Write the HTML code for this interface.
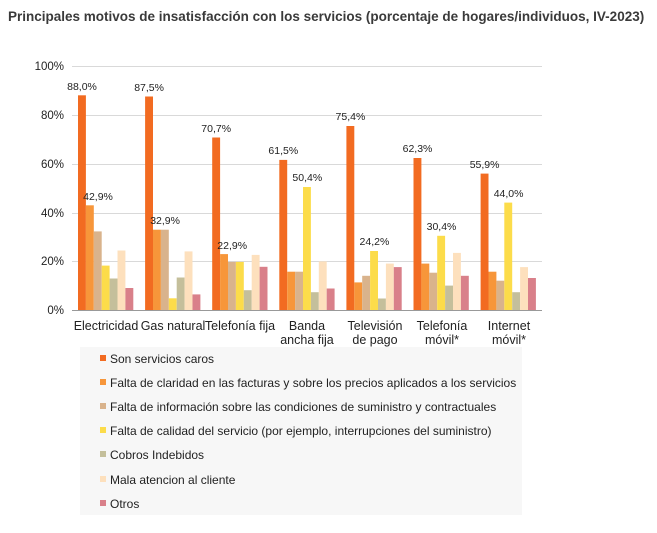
<!DOCTYPE html>
<html><head><meta charset="utf-8"><style>
body{margin:0;background:#fff;width:657px;height:528px;overflow:hidden;font-family:"Liberation Sans",sans-serif}
</style></head><body>
<svg width="657" height="528" xmlns="http://www.w3.org/2000/svg" font-family="Liberation Sans, sans-serif">
<defs>
<symbol id="a"></symbol>
</defs>
<text x="8" y="21" font-size="13.5" font-weight="bold" fill="#3a3a3a">Principales motivos de insatisfacción con los servicios (porcentaje de hogares/individuos, IV-2023)</text>
<g stroke="#d9d9d9" stroke-width="1">
<line x1="72" y1="66.5" x2="542" y2="66.5"/>
<line x1="72" y1="115.5" x2="542" y2="115.5"/>
<line x1="72" y1="164.5" x2="542" y2="164.5"/>
<line x1="72" y1="213.5" x2="542" y2="213.5"/>
<line x1="72" y1="261.5" x2="542" y2="261.5"/>
</g>
<g font-size="11.5" fill="#222" text-anchor="end">
<text x="64" y="70">100%</text><text x="64" y="119">80%</text><text x="64" y="168">60%</text><text x="64" y="217">40%</text><text x="64" y="265">20%</text><text x="64" y="314">0%</text>
</g>
<g transform="translate(78,0)">
<rect x="0" y="95.3" width="7.9" height="214.7" fill="#f26b21"/><rect x="7.9" y="205.3" width="7.9" height="104.7" fill="#f7963a"/><rect x="15.8" y="231.4" width="7.9" height="78.6" fill="#d9b38c"/><rect x="23.7" y="265.6" width="7.9" height="44.4" fill="#fcdc4a"/><rect x="31.6" y="278.5" width="7.9" height="31.5" fill="#c4bf9b"/><rect x="39.5" y="250.5" width="7.9" height="59.5" fill="#fde0bd"/><rect x="47.4" y="288" width="7.9" height="22" fill="#d9808a"/>
<text x="4" y="90" font-size="10.5" fill="#222" text-anchor="middle">88,0%</text><text x="20" y="200" font-size="10.5" fill="#222" text-anchor="middle">42,9%</text>
</g>
<g transform="translate(145.1,0)">
<rect x="0" y="96.5" width="7.9" height="213.5" fill="#f26b21"/><rect x="7.9" y="229.7" width="7.9" height="80.3" fill="#f7963a"/><rect x="15.8" y="229.7" width="7.9" height="80.3" fill="#d9b38c"/><rect x="23.7" y="298.3" width="7.9" height="11.7" fill="#fcdc4a"/><rect x="31.6" y="277.5" width="7.9" height="32.5" fill="#c4bf9b"/><rect x="39.5" y="251.4" width="7.9" height="58.6" fill="#fde0bd"/><rect x="47.4" y="294.4" width="7.9" height="15.6" fill="#d9808a"/>
<text x="4" y="91" font-size="10.5" fill="#222" text-anchor="middle">87,5%</text><text x="20" y="224" font-size="10.5" fill="#222" text-anchor="middle">32,9%</text>
</g>
<g transform="translate(212.2,0)">
<rect x="0" y="137.5" width="7.9" height="172.5" fill="#f26b21"/><rect x="7.9" y="254.1" width="7.9" height="55.9" fill="#f7963a"/><rect x="15.8" y="261.9" width="7.9" height="48.1" fill="#d9b38c"/><rect x="23.7" y="261.9" width="7.9" height="48.1" fill="#fcdc4a"/><rect x="31.6" y="290.2" width="7.9" height="19.8" fill="#c4bf9b"/><rect x="39.5" y="254.9" width="7.9" height="55.1" fill="#fde0bd"/><rect x="47.4" y="266.8" width="7.9" height="43.2" fill="#d9808a"/>
<text x="4" y="132" font-size="10.5" fill="#222" text-anchor="middle">70,7%</text><text x="20" y="249" font-size="10.5" fill="#222" text-anchor="middle">22,9%</text>
</g>
<g transform="translate(279.3,0)">
<rect x="0" y="159.9" width="7.9" height="150.1" fill="#f26b21"/><rect x="7.9" y="271.7" width="7.9" height="38.3" fill="#f7963a"/><rect x="15.8" y="271.7" width="7.9" height="38.3" fill="#d9b38c"/><rect x="23.7" y="187" width="7.9" height="123" fill="#fcdc4a"/><rect x="31.6" y="292.2" width="7.9" height="17.8" fill="#c4bf9b"/><rect x="39.5" y="261.4" width="7.9" height="48.6" fill="#fde0bd"/><rect x="47.4" y="288.5" width="7.9" height="21.5" fill="#d9808a"/>
<text x="4" y="154" font-size="10.5" fill="#222" text-anchor="middle">61,5%</text><text x="28" y="181" font-size="10.5" fill="#222" text-anchor="middle">50,4%</text>
</g>
<g transform="translate(346.4,0)">
<rect x="0" y="126" width="7.9" height="184" fill="#f26b21"/><rect x="7.9" y="282.4" width="7.9" height="27.6" fill="#f7963a"/><rect x="15.8" y="275.8" width="7.9" height="34.2" fill="#d9b38c"/><rect x="23.7" y="251" width="7.9" height="59" fill="#fcdc4a"/><rect x="31.6" y="298.5" width="7.9" height="11.5" fill="#c4bf9b"/><rect x="39.5" y="263.6" width="7.9" height="46.4" fill="#fde0bd"/><rect x="47.4" y="267.1" width="7.9" height="42.9" fill="#d9808a"/>
<text x="4" y="120" font-size="10.5" fill="#222" text-anchor="middle">75,4%</text><text x="28" y="245" font-size="10.5" fill="#222" text-anchor="middle">24,2%</text>
</g>
<g transform="translate(413.5,0)">
<rect x="0" y="158" width="7.9" height="152" fill="#f26b21"/><rect x="7.9" y="263.6" width="7.9" height="46.4" fill="#f7963a"/><rect x="15.8" y="272.7" width="7.9" height="37.3" fill="#d9b38c"/><rect x="23.7" y="235.8" width="7.9" height="74.2" fill="#fcdc4a"/><rect x="31.6" y="285.6" width="7.9" height="24.4" fill="#c4bf9b"/><rect x="39.5" y="252.9" width="7.9" height="57.1" fill="#fde0bd"/><rect x="47.4" y="275.8" width="7.9" height="34.2" fill="#d9808a"/>
<text x="4" y="152" font-size="10.5" fill="#222" text-anchor="middle">62,3%</text><text x="28" y="230" font-size="10.5" fill="#222" text-anchor="middle">30,4%</text>
</g>
<g transform="translate(480.6,0)">
<rect x="0" y="173.6" width="7.9" height="136.4" fill="#f26b21"/><rect x="7.9" y="271.7" width="7.9" height="38.3" fill="#f7963a"/><rect x="15.8" y="280.7" width="7.9" height="29.3" fill="#d9b38c"/><rect x="23.7" y="202.6" width="7.9" height="107.4" fill="#fcdc4a"/><rect x="31.6" y="292.2" width="7.9" height="17.8" fill="#c4bf9b"/><rect x="39.5" y="267.1" width="7.9" height="42.9" fill="#fde0bd"/><rect x="47.4" y="278" width="7.9" height="32" fill="#d9808a"/>
<text x="4" y="168" font-size="10.5" fill="#222" text-anchor="middle">55,9%</text><text x="28" y="197" font-size="10.5" fill="#222" text-anchor="middle">44,0%</text>
</g>
<line x1="72" y1="310.5" x2="542" y2="310.5" stroke="#999"/>
<g font-size="12.5" fill="#222" text-anchor="middle">
<text x="106" y="330">Electricidad</text>
<text x="173" y="330">Gas natural</text>
<text x="240" y="330">Telefonía fija</text>
<text x="307" y="330">Banda</text><text x="307" y="344">ancha fija</text>
<text x="375" y="330">Televisión</text><text x="375" y="344">de pago</text>
<text x="442" y="330">Telefonía</text><text x="442" y="344">móvil*</text>
<text x="509" y="330">Internet</text><text x="509" y="344">móvil*</text>
</g>
<rect x="80" y="347" width="442" height="168" fill="#f7f7f7"/>
<g font-size="12" fill="#222">
<rect x="100" y="355" width="6" height="6" fill="#f26b21"/><text x="110" y="363">Son servicios caros</text>
<rect x="100" y="379" width="6" height="6" fill="#f7963a"/><text x="110" y="387">Falta de claridad en las facturas y sobre los precios aplicados a los servicios</text>
<rect x="100" y="403" width="6" height="6" fill="#d9b38c"/><text x="110" y="411">Falta de información sobre las condiciones de suministro y contractuales</text>
<rect x="100" y="427" width="6" height="6" fill="#fcdc4a"/><text x="110" y="435">Falta de calidad del servicio (por ejemplo, interrupciones del suministro)</text>
<rect x="100" y="451" width="6" height="6" fill="#c4bf9b"/><text x="110" y="459">Cobros Indebidos</text>
<rect x="100" y="476" width="6" height="6" fill="#fde0bd"/><text x="110" y="484">Mala atencion al cliente</text>
<rect x="100" y="500" width="6" height="6" fill="#d9808a"/><text x="110" y="508">Otros</text>
</g>
</svg>
</body></html>
